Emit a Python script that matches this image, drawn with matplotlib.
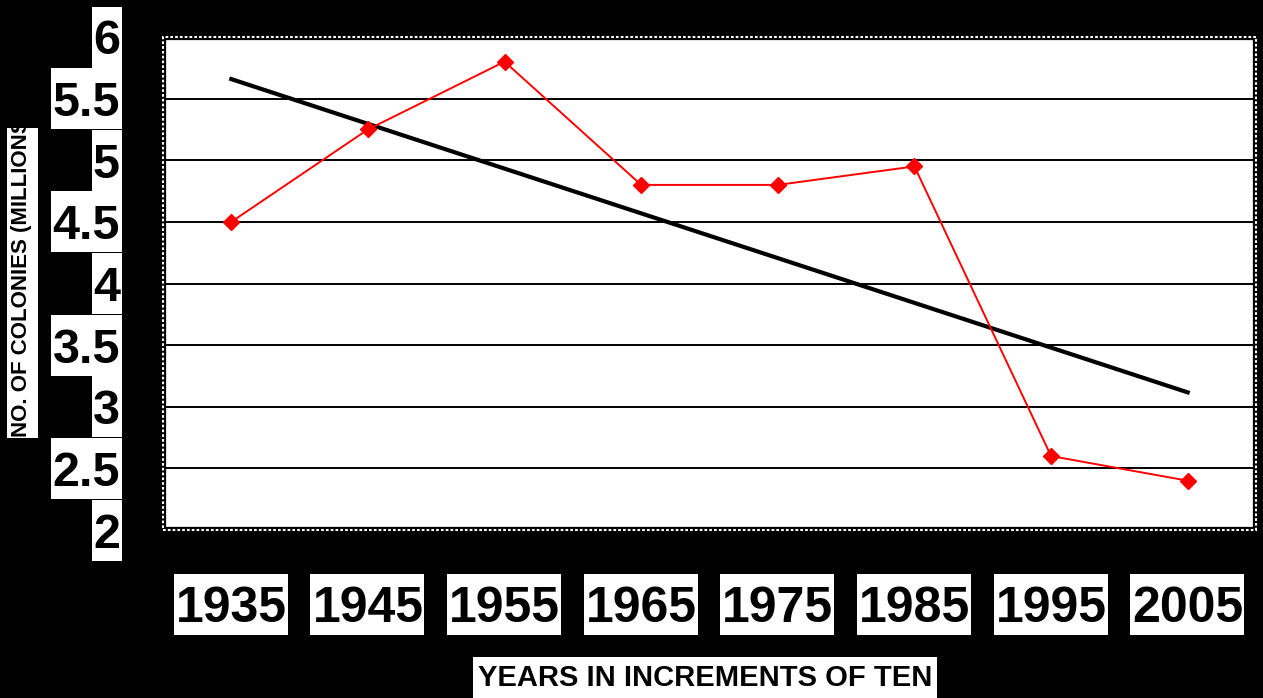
import numpy as np
import matplotlib
matplotlib.use("Agg")
import matplotlib.pyplot as plt
from matplotlib.patches import Rectangle

# data
years = ["1935", "1945", "1955", "1965", "1975", "1985", "1995", "2005"]
colonies = [4.5, 5.25, 5.8, 4.8, 4.8, 4.95, 2.6, 2.4]
y_ticks = [2, 2.5, 3, 3.5, 4, 4.5, 5, 5.5, 6]
y_tick_labels = ["2", "2.5", "3", "3.5", "4", "4.5", "5", "5.5", "6"]

plt.rcParams['font.family'] = ['Liberation Sans', 'DejaVu Sans']
plt.rcParams['font.weight'] = 'bold'

W, H = 1263, 698
fig = plt.figure(figsize=(W/100, H/100), dpi=100, facecolor='black')
ax = fig.add_axes([163/W, 1-530/H, (1256-163)/W, (530-37)/H])
ax.set_facecolor('white')

x = np.arange(len(years))
ax.plot(x, colonies, color='red', lw=1.4, marker='D', markersize=8.5, zorder=3)

# linear trend line
k, b = np.polyfit(x, colonies, 1)
ax.plot(x, k*x + b, color='black', lw=3, zorder=2)

ax.set_xlim(-0.5, len(years) - 0.5)
ax.set_ylim(2, 6)
ax.set_yticks(y_ticks)
ax.set_yticklabels(y_tick_labels)
ax.set_xticks(x)
ax.set_xticklabels(years)
ax.yaxis.grid(True, color='black', lw=1.4)
ax.set_axisbelow(True)
ax.tick_params(axis='y', length=0, pad=31, labelsize=35)
ax.tick_params(axis='x', length=0, pad=40.5, labelsize=36)
for lbl in ax.get_yticklabels() + ax.get_xticklabels():
    lbl.set_fontweight('bold')

# dotted frame: black band with white dashes
for s in ax.spines.values():
    s.set_color('black')
    s.set_linewidth(4.5)
ax.add_patch(Rectangle((0, 0), 1, 1, transform=ax.transAxes, fill=False,
                       edgecolor='white', lw=1.5, linestyle=(0, (1.3, 1)),
                       clip_on=False, zorder=5))

# white boxes behind the tick labels
fig.canvas.draw()
r = fig.canvas.get_renderer()
inv = fig.transFigure.inverted()

def white_box(x0, y0, x1, y1):
    (a, b0), (c, d) = inv.transform([(x0, y0), (x1, y1)])
    fig.add_artist(Rectangle((a, b0), c - a, d - b0, transform=fig.transFigure,
                             facecolor='white', edgecolor='none', zorder=-1))

for lbl, t in zip(ax.get_yticklabels(), y_ticks):
    bb = lbl.get_window_extent(r)
    yc = ax.transData.transform((0, t))[1]
    white_box(bb.x0 - 1, yc - 30.5, bb.x1 + 2, yc + 30.5)
for lbl in ax.get_xticklabels():
    bb = lbl.get_window_extent(r)
    yc = bb.y1 - 18.5
    white_box(bb.x0 - 2, yc - 30.5, bb.x1 + 1, yc + 30.5)

# axis titles (boxes narrower than the text, as in the original)
white_box(7, H - 438, 38, H - 128)
fig.text(22/W, 1-437/H, "NO. OF COLONIES (MILLIONS)", rotation=90,
         fontsize=16, fontweight='bold', ha='center', va='bottom')
white_box(473, 0, 937, H - 657)
fig.text(705/W, 1-686/H, "YEARS IN INCREMENTS OF TEN", fontsize=21,
         fontweight='bold', ha='center', va='baseline')

fig.savefig("out.png", dpi=100, facecolor='black')
